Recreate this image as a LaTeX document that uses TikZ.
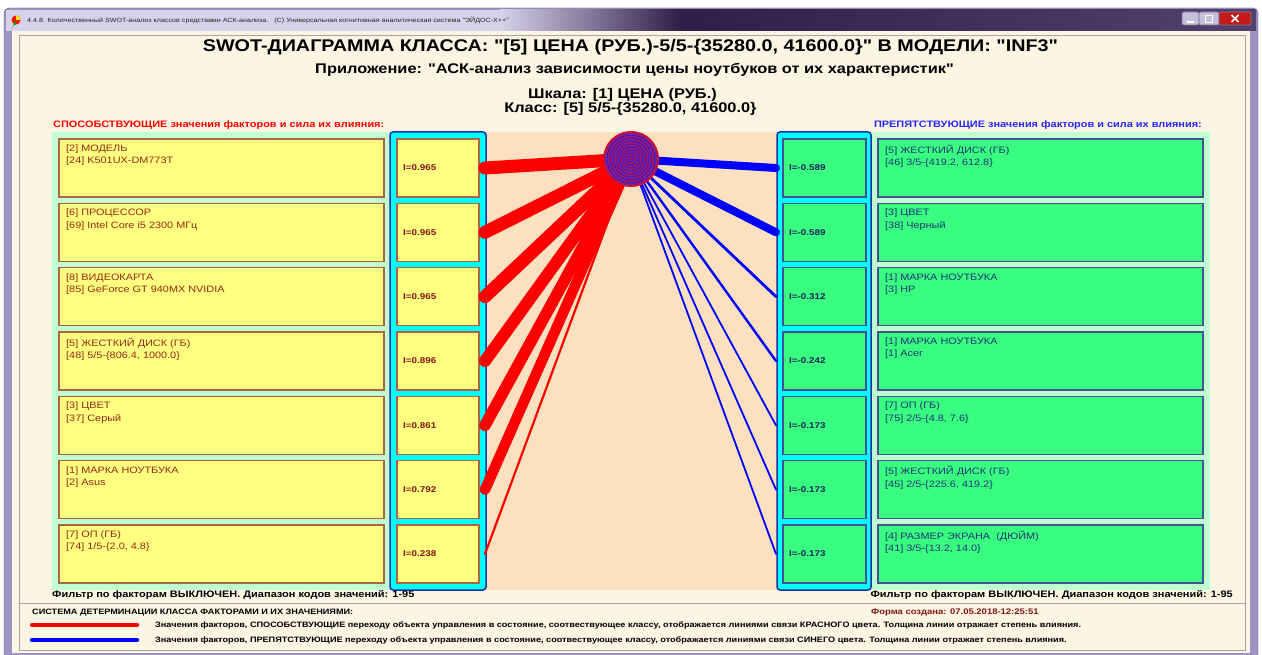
\documentclass[tikz,border=0pt]{standalone}
\usepackage{fontspec}
\setmainfont{Liberation Sans}[FakeStretch=1.17, Ligatures=TeXOff]
\definecolor{cream}{RGB}{252,245,228}
\definecolor{mint}{RGB}{192,255,208}
\definecolor{peach}{RGB}{252,224,192}
\definecolor{yfill}{RGB}{255,255,128}
\definecolor{ybord}{RGB}{170,100,70}
\definecolor{gfill}{RGB}{56,255,128}
\definecolor{gbord}{RGB}{70,80,150}
\definecolor{cyanc}{RGB}{0,255,255}
\definecolor{cbord}{RGB}{30,50,170}
\definecolor{ltcol}{RGB}{150,40,20}
\definecolor{rtcol}{RGB}{30,50,120}
\definecolor{lvcol}{RGB}{130,20,20}
\definecolor{rvcol}{RGB}{20,30,90}
\definecolor{frame}{RGB}{158,148,196}
\definecolor{tblight}{RGB}{214,210,234}
\definecolor{tbdark}{RGB}{48,30,72}
\definecolor{redl}{RGB}{255,0,0}
\definecolor{bluel}{RGB}{0,0,255}
\definecolor{purp}{RGB}{112,36,160}
\tikzset{
  ybox/.style={draw=ybord, fill=yfill, line width=1.2pt, minimum width=325pt, minimum height=58pt, inner sep=0pt},
  yibox/.style={draw=ybord, fill=yfill, line width=1.2pt, minimum width=82pt, minimum height=58pt, inner sep=0pt},
  gbox/.style={draw=gbord, fill=gfill, line width=1.2pt, minimum width=325pt, minimum height=58pt, inner sep=0pt},
  gibox/.style={draw=gbord, fill=gfill, line width=1.2pt, minimum width=83pt, minimum height=58pt, inner sep=0pt},
  ltxt/.style={anchor=north west, align=left, inner sep=0pt, font=\fontsize{9.3}{12.5}\selectfont, text=ltcol},
  rtxt/.style={anchor=north west, align=left, inner sep=0pt, font=\fontsize{9.3}{12.5}\selectfont, text=rtcol},
  lval/.style={anchor=west, inner sep=0pt, font=\fontsize{8.4}{10}\selectfont\bfseries, text=lvcol},
  rval/.style={anchor=west, inner sep=0pt, font=\fontsize{8.4}{10}\selectfont\bfseries, text=rvcol},
  col/.style={draw=cbord, fill=cyanc, line width=1.5pt, rounded corners=3pt, inner sep=0pt, minimum height=458pt},
  rl/.style={draw=redl, line cap=round},
  bl/.style={draw=bluel, line cap=round},
  hdr/.style={anchor=west, inner sep=0pt, font=\fontsize{9.35}{11}\selectfont\bfseries},
  flt/.style={inner sep=0pt, font=\fontsize{9.4}{11}\selectfont\bfseries},
  foot/.style={anchor=west, inner sep=0pt, font=\fontsize{7.8}{9}\selectfont\bfseries},
  ttl/.style={inner sep=0pt, font=\fontsize{14}{16}\selectfont\bfseries},
  btn/.style={draw=tbdark!60, rounded corners=2pt, line width=0.6pt}
}
\newcommand{\lrow}[5]{%
  \node[ybox] (L#1) at (221.5,#2+29) {};
  \node[ltxt] (LT#1) at (66,#2+5.5) {#3\\{}#4};
  \node[yibox] (LI#1) at (438,#2+29) {};
  \node[lval] (LV#1) at (403,#2+29) {#5};
  \coordinate (LE#1) at (485,#2+29);
}
\newcommand{\rrow}[5]{%
  \node[gbox] (R#1) at (1040.5,#2+29) {};
  \node[rtxt] (RT#1) at (885,#2+5.5) {#3\\{}#4};
  \node[gibox] (RI#1) at (824.5,#2+29) {};
  \node[rval] (RV#1) at (789,#2+29) {#5};
  \coordinate (RE#1) at (776,#2+29);
}
\begin{document}
\begin{tikzpicture}[x=1pt,y=-1pt]
\useasboundingbox (0,0) rectangle (1262,655);
\fill[white] (0,0) rectangle (1262,655);
% window frame
\fill[frame, rounded corners=5pt] (4,8) rectangle (1258,660);
\fill[tblight] (6,10) rectangle (500,31);
\shade[left color=tblight, right color=tbdark] (500,10) rectangle (680,31);
\shade[left color=tbdark, right color=tbdark!70!frame] (680,10) rectangle (1256,31);
\draw[tbdark!80, rounded corners=5pt] (4,8) rectangle (1258,660);
% icon
\fill[red!85!orange] (16,20) circle[radius=4.5];
\fill[yellow!90!orange] (16,20) -- (20.5,20) arc[start angle=0, end angle=-90, radius=4.5] -- cycle;
\fill[green!60!black] (16,20) -- (16,24.5) arc[start angle=-90, end angle=-180, radius=4.5] -- cycle;
\node[anchor=west, inner sep=0pt, font=\fontsize{6.1}{7}\selectfont, text=black!85] (WT) at (27,20)
  {4.4.8. Количественный SWOT-анализ классов средствами АСК-анализа.\ \ \ (С) Универсальная когнитивная аналитическая система "ЭЙДОС-Х++"};
% buttons
\node[btn, fill=frame!60!white, minimum width=17pt, minimum height=13pt, inner sep=0pt] (BMIN) at (1190.5,18.5) {};
\node[btn, fill=frame!60!white, minimum width=20pt, minimum height=13pt, inner sep=0pt] (BMAX) at (1209,18.5) {};
\node[btn, fill=red!75!black!90, minimum width=32pt, minimum height=13pt, inner sep=0pt] (BCLS) at (1235,18.5) {};
\draw[white, line width=1.4pt] (1187,22) -- (1194,22);
\draw[white, line width=0.9pt] (1205.5,15) rectangle (1212.5,22);
\draw[white, line width=1.5pt] (1231.5,15) -- (1238.5,22) (1231.5,22) -- (1238.5,15);
% client area
\fill[cream] (12,31) rectangle (1250,653);
\draw[black!35] (19,35) rectangle (1245,650);
\draw[black!35] (19,603) -- (1245,603);
% titles
\node[inner sep=0pt, font=\fontsize{16.9}{19}\selectfont\bfseries] (T1) at (630.5,47)
  {SWOT-ДИАГРАММА КЛАССА: "[5] ЦЕНА (РУБ.)-5/5-\{35280.0, 41600.0\}" В МОДЕЛИ: "INF3"};
\node[ttl] (T2) at (634.5,70)
  {Приложение: "АСК-анализ зависимости цены ноутбуков от их характеристик"};
\node[ttl] (T3) at (622.5,94.5) {Шкала: [1] ЦЕНА (РУБ.)};
\node[ttl] (T4) at (630.5,109) {Класс: [5] 5/5-\{35280.0, 41600.0\}};
\node[hdr, text=redl] (HL) at (53,125.5) {СПОСОБСТВУЮЩИЕ значения факторов и сила их влияния:};
\node[hdr, text=bluel!85!white, anchor=east] (HR) at (1202,125.5) {ПРЕПЯТСТВУЮЩИЕ значения факторов и сила их влияния:};
% panels
\fill[mint] (52,132) rectangle (1210,590);
\fill[peach] (486,132) rectangle (777,590);
\node[col, minimum width=96pt] (LCOL) at (438,361) {};
\node[col, minimum width=94pt] (RCOL) at (824,361) {};
% rows
\lrow{1}{139}{[2] МОДЕЛЬ}{[24] K501UX-DM773T}{I=0.965}
\lrow{2}{203.33}{[6] ПРОЦЕССОР}{[69] Intel Core i5 2300 МГц}{I=0.965}
\lrow{3}{267.67}{[8] ВИДЕОКАРТА}{[85] GeForce GT 940MX NVIDIA}{I=0.965}
\lrow{4}{332}{[5] ЖЕСТКИЙ ДИСК (ГБ)}{[48] 5/5-\{806.4, 1000.0\}}{I=0.896}
\lrow{5}{396.33}{[3] ЦВЕТ}{[37] Серый}{I=0.861}
\lrow{6}{460.67}{[1] МАРКА НОУТБУКА}{[2] Asus}{I=0.792}
\lrow{7}{525}{[7] ОП (ГБ)}{[74] 1/5-\{2.0, 4.8\}}{I=0.238}
\rrow{1}{139}{[5] ЖЕСТКИЙ ДИСК (ГБ)}{[46] 3/5-\{419.2, 612.8\}}{I=-0.589}
\rrow{2}{203.33}{[3] ЦВЕТ}{[38] Черный}{I=-0.589}
\rrow{3}{267.67}{[1] МАРКА НОУТБУКА}{[3] HP}{I=-0.312}
\rrow{4}{332}{[1] МАРКА НОУТБУКА}{[1] Acer}{I=-0.242}
\rrow{5}{396.33}{[7] ОП (ГБ)}{[75] 2/5-\{4.8, 7.6\}}{I=-0.173}
\rrow{6}{460.67}{[5] ЖЕСТКИЙ ДИСК (ГБ)}{[45] 2/5-\{225.6, 419.2\}}{I=-0.173}
\rrow{7}{525}{[4] РАЗМЕР ЭКРАНА\ \ (ДЮЙМ)}{[41] 3/5-\{13.2, 14.0\}}{I=-0.173}
% connectors
\coordinate (Cc) at (631,159);
\draw[rl, line width=13pt] (Cc) -- (LE1);
\draw[rl, line width=13pt] (Cc) -- (LE2);
\draw[rl, line width=13pt] (Cc) -- (LE3);
\draw[rl, line width=12pt] (Cc) -- (LE4);
\draw[rl, line width=11.5pt] (Cc) -- (LE5);
\draw[rl, line width=10.5pt] (Cc) -- (LE6);
\draw[rl, line width=2.2pt] (Cc) -- (LE7);
\draw[bl, line width=8pt] (Cc) -- (RE1);
\draw[bl, line width=8pt] (Cc) -- (RE2);
\draw[bl, line width=2.8pt] (Cc) -- (RE3);
\draw[bl, line width=2.4pt] (Cc) -- (RE4);
\draw[bl, line width=1.8pt] (Cc) -- (RE5);
\draw[bl, line width=1.8pt] (Cc) -- (RE6);
\draw[bl, line width=1.8pt] (Cc) -- (RE7);
% class circle
\node[circle, fill=purp, draw=redl, line width=1pt, minimum size=55pt, inner sep=0pt] (C) at (Cc) {};
\foreach \r in {1.5,4.5,...,25.5} \draw[redl!75!purp, line width=0.5pt] (Cc) circle[radius=\r];
\foreach \r in {3,6,...,24} \draw[bluel!65!purp, line width=0.5pt] (Cc) circle[radius=\r];
% filter notes
\node[flt, anchor=west] (FL) at (52,595) {Фильтр по факторам ВЫКЛЮЧЕН. Диапазон кодов значений: 1-95};
\node[flt, anchor=east] (FR) at (1233,595) {Фильтр по факторам ВЫКЛЮЧЕН. Диапазон кодов значений: 1-95};
% footer legend
\node[foot] (S1) at (32,613) {СИСТЕМА ДЕТЕРМИНАЦИИ КЛАССА ФАКТОРАМИ И ИХ ЗНАЧЕНИЯМИ:};
\node[foot, font=\fontsize{8.1}{9}\selectfont\bfseries, text=lvcol] (S2) at (871,613) {Форма создана: 07.05.2018-12:25:51};
\coordinate (RA) at (32,625); \coordinate (RB) at (137,625);
\coordinate (BA) at (32,640); \coordinate (BB) at (137,640);
\draw[rl, line width=4.5pt] (RA) -- (RB);
\draw[bl, line width=4.5pt] (BA) -- (BB);
\node[foot] (S3) at (155,625) {Значения факторов, СПОСОБСТВУЮЩИЕ переходу объекта управления в состояние, соотвествующее классу, отображается линиями связи КРАСНОГО цвета. Толщина линии отражает степень влияния.};
\node[foot] (S4) at (155,640) {Значения факторов, ПРЕПЯТСТВУЮЩИЕ переходу объекта управления в состояние, соотвествующее классу, отображается линиями связи СИНЕГО цвета. Толщина линии отражает степень влияния.};
\end{tikzpicture}
\end{document}
